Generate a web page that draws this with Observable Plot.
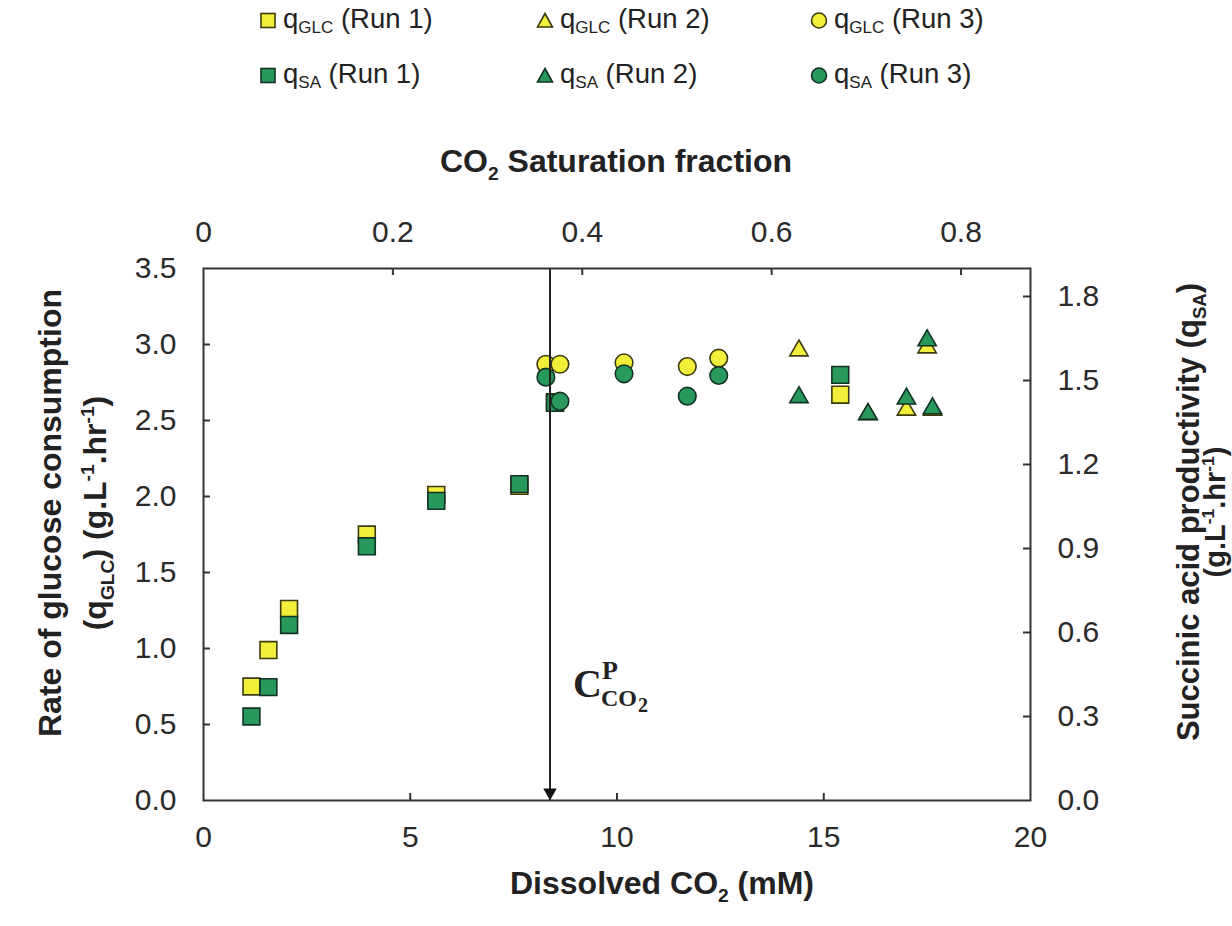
<!DOCTYPE html>
<html>
<head>
<meta charset="utf-8">
<script src="https://cdn.jsdelivr.net/npm/d3@7"></script>
<script src="https://cdn.jsdelivr.net/npm/@observablehq/plot@0.6"></script>
<style>
  body { margin: 0; background: #fff; font-family: "Liberation Sans", Arial, sans-serif; }
  #legend { position: relative; width: 1232px; height: 110px; }
  .item { position: absolute; display: flex; align-items: center; font-size: 27.5px; color: #222; white-space: nowrap; transform: translateY(-50%); }
  .item svg { margin-right: 6px; }
  .item sub { font-size: 17px; vertical-align: -5px; }
  #chart { width: 1232px; }
</style>
</head>
<body>
<div id="legend"></div>
<div id="chart"></div>
<script>
// ---------------- data ----------------
const SAT_MM = 22.9;          // mM of dissolved CO2 at full saturation (top axis)
const GLC_MAX = 3.5;          // left axis max
const SA_MAX = 1.9;           // right axis max
const cpX = 8.38;             // critical dissolved CO2 (arrow)

const xTicks = [0, 5, 10, 15, 20];
const glcTicks = [0, 0.5, 1.0, 1.5, 2.0, 2.5, 3.0, 3.5];
const saTicks = [0, 0.3, 0.6, 0.9, 1.2, 1.5, 1.8];
const satTicks = [0, 0.2, 0.4, 0.6, 0.8];

// Run 1 (squares)
const x1   = [1.16, 1.57, 2.07, 3.95, 5.63, 7.64, 8.50, 15.40];
const glc1 = [0.75, 0.99, 1.26, 1.75, 2.01, 2.07, 2.62, 2.67];
const sa1  = [0.30, 0.405, 0.627, 0.908, 1.07, 1.13, 1.42, 1.52];
// Run 2 (triangles)
const x2   = [14.40, 16.07, 17.00, 17.50, 17.63];
const glc2 = [2.96, 2.54, 2.57, 2.98, 2.57];
const sa2  = [1.44, 1.38, 1.435, 1.643, 1.40];
// Run 3 (circles)
const x3   = [8.28, 8.62, 10.17, 11.70, 12.46];
const glc3 = [2.87, 2.87, 2.88, 2.855, 2.91];
const sa3  = [1.512, 1.426, 1.524, 1.444, 1.518];

const runs = ["Run 1", "Run 2", "Run 3"];
const symbols = ["square", "triangle", "circle"];
const radii = [9.5, 6.8, 8.8];
const glcFill = "#f2ef3a", glcStroke = "#3d3a0e";
const saFill = "#29985c", saStroke = "#123324";

// ---------------- legend ----------------
const legendCols = [268, 545, 819];
const legendRows = [20, 75];
const legend = document.getElementById("legend");
function symSvg(kind, fill, stroke) {
  let shape;
  if (kind === "square") shape = `<rect x="2" y="2" width="14" height="14" fill="${fill}" stroke="${stroke}" stroke-width="1.6"/>`;
  else if (kind === "triangle") shape = `<polygon points="9,2 16.5,15.5 1.5,15.5" fill="${fill}" stroke="${stroke}" stroke-width="1.6"/>`;
  else shape = `<circle cx="9" cy="9" r="7.5" fill="${fill}" stroke="${stroke}" stroke-width="1.6"/>`;
  return `<svg width="18" height="18" viewBox="0 0 18 18">${shape}</svg>`;
}
[["GLC", glcFill, glcStroke], ["SA", saFill, saStroke]].forEach(([name, fill, stroke], r) => {
  runs.forEach((run, c) => {
    const d = document.createElement("div");
    d.className = "item";
    d.style.left = (legendCols[c] - 9) + "px";
    d.style.top = legendRows[r] + "px";
    d.innerHTML = symSvg(symbols[c], fill, stroke) + `<span>q<sub>${name}</sub> (${run})</span>`;
    legend.appendChild(d);
  });
});

// ---------------- chart ----------------
const k = GLC_MAX / SA_MAX;   // SA value -> left-axis units
const glcSets = [[x1, glc1], [x2, glc2], [x3, glc3]];
const saSets = [[x1, sa1], [x2, sa2], [x3, sa3]];

const W = 1232, H = 816, mt = 158, mb = 126, ml = 203, mr = 202;
const plotH = H - mt - mb, plotW = W - ml - mr;
const tickLen = 7;
const tickFont = 30;
const fmt1 = d3.format(".1f");
const fmtSat = v => { const s = Math.round(v * 10) / 10; return s === 0 ? "0" : s.toFixed(1); };

const dotMarks = [];
glcSets.forEach(([xs, ys], i) => {
  dotMarks.push(Plot.dot(xs.map((x, j) => ({x, y: ys[j]})), {
    x: "x", y: "y", symbol: () => symbols[i], r: radii[i],
    fill: glcFill, stroke: glcStroke, strokeWidth: 1.6
  }));
});
saSets.forEach(([xs, ys], i) => {
  dotMarks.push(Plot.dot(xs.map((x, j) => ({x, y: ys[j] * k})), {
    x: "x", y: "y", symbol: () => symbols[i], r: radii[i],
    fill: saFill, stroke: saStroke, strokeWidth: 1.6
  }));
});

const serif = "Liberation Serif, serif";
const chart = Plot.plot({
  width: W, height: H,
  marginTop: mt, marginBottom: mb, marginLeft: ml, marginRight: mr,
  style: { fontFamily: "Liberation Sans, Arial, sans-serif", background: "#fff", color: "#2a2a2a" },
  x: { domain: [0, 20] },
  y: { domain: [0, GLC_MAX] },
  symbol: { type: "identity" },
  marks: [
    // tick labels
    Plot.axisX(xTicks, { anchor: "bottom", tickSize: 0, tickPadding: 25, fontSize: tickFont, tickFormat: d3.format("d"), label: null }),
    Plot.axisX(satTicks.map(s => s * SAT_MM), { anchor: "top", tickSize: 0, tickPadding: 27, fontSize: tickFont, tickFormat: d => fmtSat(d / SAT_MM), label: null }),
    Plot.axisY(glcTicks, { anchor: "left", tickSize: 0, tickPadding: 27, fontSize: tickFont, tickFormat: fmt1, label: null }),
    Plot.axisY(saTicks.map(v => v * k), { anchor: "right", tickSize: 0, tickPadding: 27, fontSize: tickFont, tickFormat: d => fmt1(d / k), label: null }),
    // inward tick marks
    Plot.tickX(xTicks.slice(1, -1), { x: d => d, insetTop: plotH - tickLen, stroke: "#333", strokeWidth: 2 }),
    Plot.tickX(satTicks.slice(1).map(s => s * SAT_MM), { x: d => d, insetBottom: plotH - tickLen, stroke: "#333", strokeWidth: 2 }),
    Plot.tickY(glcTicks.slice(1, -1), { y: d => d, insetRight: plotW - tickLen, stroke: "#333", strokeWidth: 2 }),
    Plot.tickY(saTicks.slice(1).map(v => v * k), { y: d => d, insetLeft: plotW - tickLen, stroke: "#333", strokeWidth: 2 }),
    ...dotMarks,
    // arrow at critical CO2
    Plot.ruleX([cpX], { x: d => d, stroke: "#222", strokeWidth: 2 }),
    Plot.dot([cpX], { x: d => d, y: () => 0, symbol: "triangle", rotate: 180, r: 5, fill: "#111", stroke: "none", dy: -8 }),
    // annotation C^P_CO2
    Plot.text([cpX], { x: d => d, y: () => 0.68, text: () => "C", dx: 23, textAnchor: "start", lineAnchor: "bottom", fontSize: 40, fontWeight: "bold", fontFamily: serif, fill: "#222" }),
    Plot.text([cpX], { x: d => d, y: () => 0.68, text: () => "P", dx: 52, dy: -18, textAnchor: "start", lineAnchor: "bottom", fontSize: 26, fontWeight: "bold", fontFamily: serif, fill: "#222" }),
    Plot.text([cpX], { x: d => d, y: () => 0.68, text: () => "CO", dx: 51, dy: 9, textAnchor: "start", lineAnchor: "bottom", fontSize: 24, fontWeight: "bold", fontFamily: serif, fill: "#222" }),
    Plot.text([cpX], { x: d => d, y: () => 0.68, text: () => "2", dx: 88, dy: 15, textAnchor: "start", lineAnchor: "bottom", fontSize: 20, fontWeight: "bold", fontFamily: serif, fill: "#222" }),
    Plot.frame({ stroke: "#333", strokeWidth: 2 })
  ]
});
document.getElementById("chart").appendChild(chart);

// ---------------- axis titles (rich text) ----------------
const svg = d3.select(chart);
function richText(x, y, rotate, parts, size) {
  const t = svg.append("text")
    .attr("transform", `translate(${x},${y})` + (rotate ? ` rotate(${rotate})` : ""))
    .attr("text-anchor", "middle")
    .attr("font-family", "Liberation Sans, Arial, sans-serif")
    .attr("font-weight", "bold")
    .attr("font-size", size)
    .attr("fill", "#222");
  let shift = 0;
  parts.forEach(([txt, kind]) => {
    const target = kind === "sub" ? Math.round(size * 0.24) : kind === "sup" ? -Math.round(size * 0.38) : 0;
    const ts = t.append("tspan").text(txt).attr("dy", target - shift);
    if (kind) ts.attr("font-size", size * 0.6);
    shift = target;
  });
  return t;
}
const unitParts = [["(g.L"], ["-1", "sup"], [".hr"], ["-1", "sup"], [")"]];
richText(616, 62, 0, [["CO"], ["2", "sub"], [" Saturation fraction"]], 32);
richText(662, 784, 0, [["Dissolved CO"], ["2", "sub"], [" (mM)"]], 32);
richText(61, 403, -90, [["Rate of glucose consumption"]], 32);
richText(106, 403, -90, [["(q"], ["GLC", "sub"], [") "], ...unitParts], 32);
richText(1199, 402, -90, [["Succinic acid productivity (q"], ["SA", "sub"], [")"]], 31);
richText(1225, 402, -90, unitParts, 29);
</script>
</body>
</html>
